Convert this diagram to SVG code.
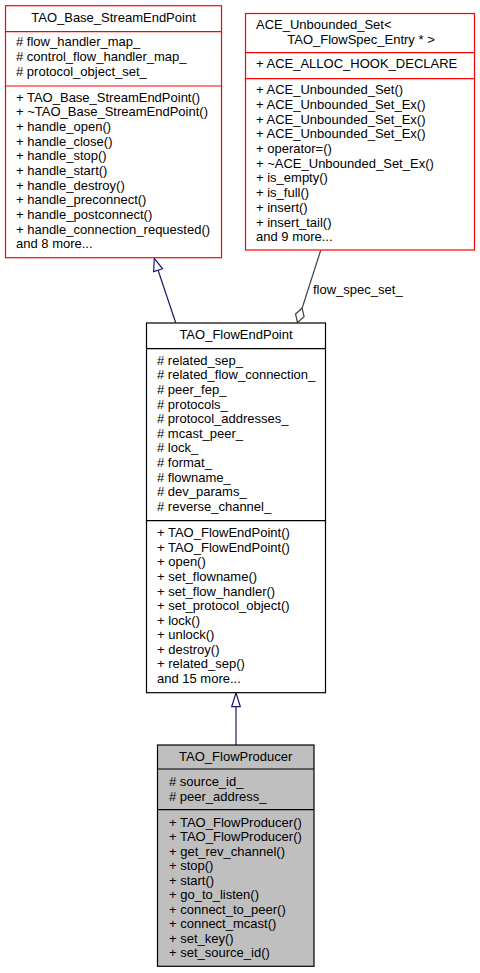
<svg xmlns="http://www.w3.org/2000/svg" width="480" height="973" viewBox="0 0 480 973">
<style>
text{font-family:"Liberation Sans",Arial,sans-serif;font-size:13px;fill:#000}
.c{text-anchor:middle}
.red{fill:#fff;stroke:#ff0000;stroke-width:1.2}
.blk{fill:#fff;stroke:#000;stroke-width:1.2}
.gray{fill:#bfbfbf;stroke:#000;stroke-width:1.2}
.sr{stroke:#ff0000;stroke-width:1.2}
.sb{stroke:#000;stroke-width:1.2}
.inh{stroke:#191970;stroke-width:1.2;fill:none}
.inhh{stroke:#191970;stroke-width:1.2;fill:#fff}
.agg{stroke:#404040;stroke-width:1.2;fill:none}
.aggh{stroke:#404040;stroke-width:1.2;fill:#fff}
</style>
<rect width="480" height="973" fill="#fff"/>
<g id="connectors">
<line class="inh" x1="175.7" y1="322.7" x2="158.1" y2="270.2"/>
<polygon class="inhh" points="154.3,258.3 162.6,268.8 153.6,271.6"/>
<line class="agg" x1="320.7" y1="250.3" x2="302.1" y2="308.2"/>
<polygon class="aggh" points="297.5,322.5 295.5,314 302.1,308.2 304.1,316.8"/>
<text x="313" y="294">flow_spec_set_</text>
<line class="inh" x1="236" y1="745" x2="236" y2="706.7"/>
<polygon class="inhh" points="236,692.7 240.3,706.7 231.7,706.7"/>
</g>
<g id="TAO_Base_StreamEndPoint">
<rect class="red" x="5.5" y="5.7" width="216" height="252"/>
<line class="sr" x1="5.5" y1="31.7" x2="221.5" y2="31.7"/>
<line class="sr" x1="5.5" y1="86" x2="221.5" y2="86"/>
<text class="c" x="113.5" y="21.5">TAO_Base_StreamEndPoint</text>
<text x="16" y="46.3"># flow_handler_map_</text>
<text x="16" y="61"># control_flow_handler_map_</text>
<text x="16" y="75.6"># protocol_object_set_</text>
<text x="16" y="101.7">+ TAO_Base_StreamEndPoint()</text>
<text x="16" y="116.3">+ ~TAO_Base_StreamEndPoint()</text>
<text x="16" y="131">+ handle_open()</text>
<text x="16" y="145.7">+ handle_close()</text>
<text x="16" y="160.3">+ handle_stop()</text>
<text x="16" y="175">+ handle_start()</text>
<text x="16" y="189.7">+ handle_destroy()</text>
<text x="16" y="204.3">+ handle_preconnect()</text>
<text x="16" y="219">+ handle_postconnect()</text>
<text x="16" y="233.6">+ handle_connection_requested()</text>
<text x="16" y="248.3">and 8 more...</text>
</g>
<g id="ACE_Unbounded_Set">
<rect class="red" x="245.5" y="13.5" width="229" height="236.5"/>
<line class="sr" x1="245.5" y1="52.7" x2="474.5" y2="52.7"/>
<line class="sr" x1="245.5" y1="78.7" x2="474.5" y2="78.7"/>
<text x="256" y="29">ACE_Unbounded_Set&lt;</text>
<text class="c" x="361" y="44">TAO_FlowSpec_Entry * &gt;</text>
<text x="256" y="68">+ ACE_ALLOC_HOOK_DECLARE</text>
<text x="256" y="94">+ ACE_Unbounded_Set()</text>
<text x="256" y="108.7">+ ACE_Unbounded_Set_Ex()</text>
<text x="256" y="123.5">+ ACE_Unbounded_Set_Ex()</text>
<text x="256" y="138.2">+ ACE_Unbounded_Set_Ex()</text>
<text x="256" y="152.9">+ operator=()</text>
<text x="256" y="167.7">+ ~ACE_Unbounded_Set_Ex()</text>
<text x="256" y="182.4">+ is_empty()</text>
<text x="256" y="197.1">+ is_full()</text>
<text x="256" y="211.8">+ insert()</text>
<text x="256" y="226.6">+ insert_tail()</text>
<text x="256" y="241.3">and 9 more...</text>
</g>
<g id="TAO_FlowEndPoint">
<rect class="blk" x="146.5" y="323" width="179" height="369.7"/>
<line class="sb" x1="146.5" y1="348.7" x2="325.5" y2="348.7"/>
<line class="sb" x1="146.5" y1="520.7" x2="325.5" y2="520.7"/>
<text class="c" x="236" y="339">TAO_FlowEndPoint</text>
<text x="157" y="364.7"># related_sep_</text>
<text x="157" y="379.3"># related_flow_connection_</text>
<text x="157" y="393.9"># peer_fep_</text>
<text x="157" y="408.6"># protocols_</text>
<text x="157" y="423.2"># protocol_addresses_</text>
<text x="157" y="437.8"># mcast_peer_</text>
<text x="157" y="452.4"># lock_</text>
<text x="157" y="467"># format_</text>
<text x="157" y="481.7"># flowname_</text>
<text x="157" y="496.3"># dev_params_</text>
<text x="157" y="510.9"># reverse_channel_</text>
<text x="157" y="537.3">+ TAO_FlowEndPoint()</text>
<text x="157" y="551.9">+ TAO_FlowEndPoint()</text>
<text x="157" y="566.4">+ open()</text>
<text x="157" y="581">+ set_flowname()</text>
<text x="157" y="595.6">+ set_flow_handler()</text>
<text x="157" y="610.2">+ set_protocol_object()</text>
<text x="157" y="624.7">+ lock()</text>
<text x="157" y="639.3">+ unlock()</text>
<text x="157" y="653.9">+ destroy()</text>
<text x="157" y="668.4">+ related_sep()</text>
<text x="157" y="683">and 15 more...</text>
</g>
<g id="TAO_FlowProducer">
<rect class="gray" x="157.5" y="745" width="156.5" height="221.3"/>
<line class="sb" x1="157.5" y1="769" x2="314" y2="769"/>
<line class="sb" x1="157.5" y1="809.7" x2="314" y2="809.7"/>
<text class="c" x="235.7" y="761">TAO_FlowProducer</text>
<text x="169" y="786.3"># source_id_</text>
<text x="169" y="801.3"># peer_address_</text>
<text x="169" y="826.7">+ TAO_FlowProducer()</text>
<text x="169" y="841.2">+ TAO_FlowProducer()</text>
<text x="169" y="855.7">+ get_rev_channel()</text>
<text x="169" y="870.2">+ stop()</text>
<text x="169" y="884.7">+ start()</text>
<text x="169" y="899.2">+ go_to_listen()</text>
<text x="169" y="913.7">+ connect_to_peer()</text>
<text x="169" y="928.2">+ connect_mcast()</text>
<text x="169" y="942.7">+ set_key()</text>
<text x="169" y="957.2">+ set_source_id()</text>
</g>
</svg>
